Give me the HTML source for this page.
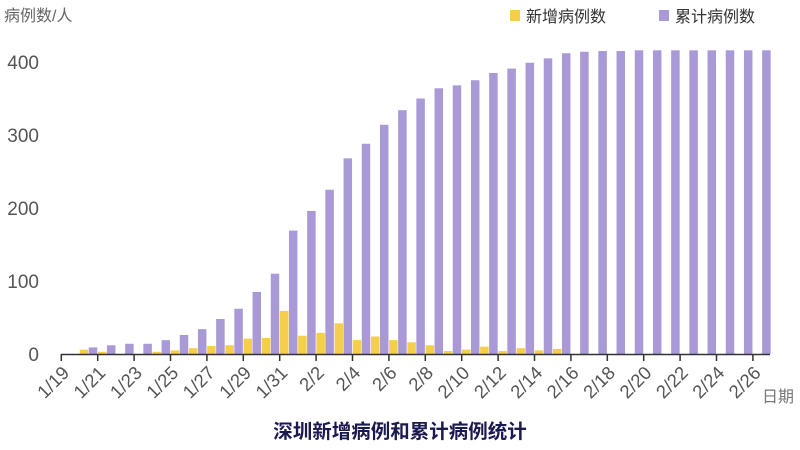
<!DOCTYPE html>
<html><head><meta charset="utf-8"><style>
html,body{margin:0;padding:0;background:#fff;}
svg{display:block;font-family:"Liberation Sans","Noto Sans CJK SC",sans-serif;}
</style></head><body>
<svg width="800" height="450" viewBox="0 0 800 450" xmlns="http://www.w3.org/2000/svg">
<text x="4" y="21" font-size="16" fill="#666">病例数/人</text>
<rect x="510" y="10" width="10" height="11" fill="#f5cf4c"/>
<text x="526" y="22" font-size="16" fill="#333">新增病例数</text>
<rect x="659" y="10" width="10" height="11" fill="#a999d6"/>
<text x="675" y="22" font-size="16" fill="#333">累计病例数</text>
<g font-size="19" fill="#555" text-anchor="end">
<text x="39" y="69">400</text><text x="39" y="142">300</text><text x="39" y="215">200</text><text x="39" y="288">100</text><text x="39" y="361">0</text>
</g>
<g id="bars"></g>
<line x1="61" y1="354.5" x2="770" y2="354.5" stroke="#333" stroke-width="1.5"/>
<g id="ticks"></g>
<text x="762" y="402" font-size="16" fill="#777">日期</text>
<text x="400" y="438" font-size="19.5" font-weight="bold" fill="#1a1a50" text-anchor="middle">深圳新增病例和累计病例统计</text>
<script>
var P=[0,9,12,14,14,19,26,34,48,62,85,110,169,196,225,268,288,314,334,350,364,368,375,385,391,399,405,412,414,415,415,416,416,416,416,416,416,416,416];
var Y=[0,6,3,0,0,3,5,8,11,12,21,22,59,25,29,42,19,24,19,16,12,4,6,10,4,8,5,7,0,0,0,0,0,0,0,0,0,0,0];
var ns="http://www.w3.org/2000/svg",g=document.getElementById('bars'),t=document.getElementById('ticks');
function r(x,v,c){if(v<=0)return;var e=document.createElementNS(ns,'rect');var h=v*0.73;e.setAttribute('x',x);e.setAttribute('y',354-h);e.setAttribute('width',8.5);e.setAttribute('height',h);e.setAttribute('fill',c);g.appendChild(e);}
for(var k=1;k<39;k++){var pc=74.8+18.2*k;r(pc-4.25,P[k],'#a999d6');r(pc-13.25,Y[k],'#f5cf4c');}
var lab=[];for(var i=0;i<39;i+=2){var d=19+i;lab.push(d<=31?'1/'+d:'2/'+(d-31));}
for(var j=0;j<20;j++){var x=61.3+18.2*2*j;var l=document.createElementNS(ns,'line');l.setAttribute('x1',x);l.setAttribute('x2',x);l.setAttribute('y1',354);l.setAttribute('y2',361);l.setAttribute('stroke','#333');l.setAttribute('stroke-width','1.5');t.appendChild(l);
var tx=document.createElementNS(ns,'text');tx.setAttribute('x',x+9);tx.setAttribute('y',374);tx.setAttribute('font-size','18.5');tx.setAttribute('fill','#555');tx.setAttribute('text-anchor','end');tx.setAttribute('transform','rotate(-45 '+(x+9)+' 374)');tx.textContent=lab[j];t.appendChild(tx);}
</script>
</svg>
</body></html>
